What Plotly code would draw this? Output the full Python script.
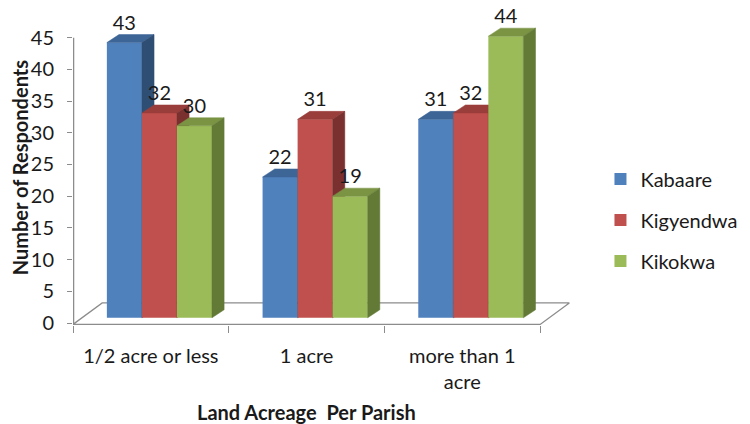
import plotly.graph_objects as go

# ---- data ----
categories = ["1/2 acre or less", "1 acre", "more than 1<br>acre"]
series_names = ["Kabaare", "Kigyendwa", "Kikokwa"]
kabaare = [43, 22, 31]
kigyendwa = [32, 31, 32]
kikokwa = [30, 19, 44]
y_ticks = [0, 5, 10, 15, 20, 25, 30, 35, 40, 45]

series_values = [kabaare, kigyendwa, kikokwa]

# ---- styling ----
FONT = "Lato"
TEXT = "#1a1a1a"
front_colors = ["#4F81BD", "#C0504D", "#9BBB59"]
top_colors = ["#3D6596", "#9A3E3B", "#7A9444"]
side_colors = ["#2F4E74", "#7A302E", "#627A36"]
AXIS_GREY = "#8C8C8C"

# ---- oblique 3-D geometry (axis units) ----
BAR_W = 0.225          # width of a column front, in category units
BAR_DX = 0.078         # column depth, horizontal component
BAR_DY = 1.25          # column depth, vertical component (column axis units)
GROUP_SHIFT = 0.055    # columns stand half-way back on the floor
FLOOR_Y = -0.22        # front edge of the floor (value axis units)
FLOOR_DX = 0.1875      # floor depth, horizontal component
FLOOR_DY = 3.39        # floor depth, vertical component

X_RANGE = [-0.5, 2.7625]
Y_RANGE = [-0.315, 49.68]     # value axis with tick labels
Y2_RANGE = [-1.13, 48.4]      # axis the columns are drawn on

fig = go.Figure()

# floor
fx0, fx1 = -0.5, len(categories) - 0.5
fig.add_trace(go.Scatter(
    x=[fx0, fx1, fx1 + FLOOR_DX, fx0 + FLOOR_DX, fx0],
    y=[FLOOR_Y, FLOOR_Y, FLOOR_Y + FLOOR_DY, FLOOR_Y + FLOOR_DY, FLOOR_Y],
    mode="lines", fill="toself", fillcolor="white",
    line=dict(color=AXIS_GREY, width=1.3),
    showlegend=False, hoverinfo="skip", zorder=-1,
))

# vertical value axis line
fig.add_trace(go.Scatter(
    x=[fx0 + 0.004, fx0 + 0.004], y=[FLOOR_Y, y_ticks[-1]],
    mode="lines", line=dict(color=AXIS_GREY, width=1.3),
    showlegend=False, hoverinfo="skip", zorder=-1,
))

# columns: front (bar), top and right side faces
for s, (name, vals) in enumerate(zip(series_names, series_values)):
    centers = [i + GROUP_SHIFT + (s - 1) * BAR_W for i in range(len(vals))]
    z = s + 1
    fig.add_trace(go.Bar(
        x=centers, y=vals, base=0, width=BAR_W, name=name,
        marker=dict(color=front_colors[s], line=dict(width=0)),
        yaxis="y2", legendgroup=name, zorder=z,
    ))
    tx, ty, sx, sy = [], [], [], []
    for c, v in zip(centers, vals):
        xl, xr = c - BAR_W / 2, c + BAR_W / 2
        tx += [xl, xr, xr + BAR_DX, xl + BAR_DX, xl, None]
        ty += [v, v, v + BAR_DY, v + BAR_DY, v, None]
        sx += [xr, xr + BAR_DX, xr + BAR_DX, xr, xr, None]
        sy += [0, BAR_DY, v + BAR_DY, v, 0, None]
    fig.add_trace(go.Scatter(
        x=tx, y=ty, mode="lines", fill="toself", fillcolor=top_colors[s],
        line=dict(color=top_colors[s], width=0.5),
        yaxis="y2", showlegend=False, hoverinfo="skip", zorder=z,
    ))
    fig.add_trace(go.Scatter(
        x=sx, y=sy, mode="lines", fill="toself", fillcolor=side_colors[s],
        line=dict(color=side_colors[s], width=0.5),
        yaxis="y2", showlegend=False, hoverinfo="skip", zorder=z,
    ))
    fig.add_trace(go.Scatter(
        x=centers, y=[v + BAR_DY for v in vals], text=[str(v) for v in vals],
        mode="text", textposition="top center",
        textfont=dict(family=FONT, size=20, color=TEXT),
        yaxis="y2", showlegend=False, hoverinfo="skip", cliponaxis=False,
        zorder=10,
    ))

# axis titles
fig.add_annotation(
    text="<b>Land Acreage\u00a0 Per Parish</b>", x=1, xref="x",
    y=-0.276, yref="paper", yanchor="middle", showarrow=False,
    font=dict(family=FONT, size=20, color=TEXT),
)
fig.add_annotation(
    text="<b>Number of Respondents</b>", textangle=-90,
    x=-0.104, xref="paper", xanchor="center",
    y=0.495, yref="paper", yanchor="middle", showarrow=False,
    font=dict(family=FONT, size=20, color=TEXT),
)

fig.update_layout(
    width=750, height=424,
    margin=dict(l=73, r=155, t=8, b=99),
    paper_bgcolor="white", plot_bgcolor="white",
    barmode="overlay",
    font=dict(family=FONT, size=20, color=TEXT),
    xaxis=dict(
        range=X_RANGE, tickmode="array",
        tickvals=list(range(len(categories))), ticktext=categories,
        ticks="", showgrid=False, zeroline=False, showline=False,
        ticklabelstandoff=17,
        tickfont=dict(family=FONT, size=20, color=TEXT),
        minor=dict(tickmode="array",
                   tickvals=[i - 0.5 for i in range(len(categories) + 1)],
                   ticks="outside", ticklen=7, tickcolor=AXIS_GREY,
                   tickwidth=1.3),
    ),
    yaxis=dict(
        range=Y_RANGE, tickmode="array", tickvals=y_ticks,
        ticks="outside", ticklen=5, tickcolor=AXIS_GREY, tickwidth=1.3,
        showgrid=False, zeroline=False, showline=False,
        ticklabelstandoff=9,
        tickfont=dict(family=FONT, size=20, color=TEXT),
    ),
    yaxis2=dict(range=Y2_RANGE, overlaying="y", visible=False),
    legend=dict(
        x=(615 - 73) / 522, xanchor="left", y=0.331, yanchor="middle",
        traceorder="grouped", tracegroupgap=12,
        font=dict(family=FONT, size=20, color=TEXT),
        bgcolor="rgba(0,0,0,0)",
    ),
)

fig.write_html("out.html")
